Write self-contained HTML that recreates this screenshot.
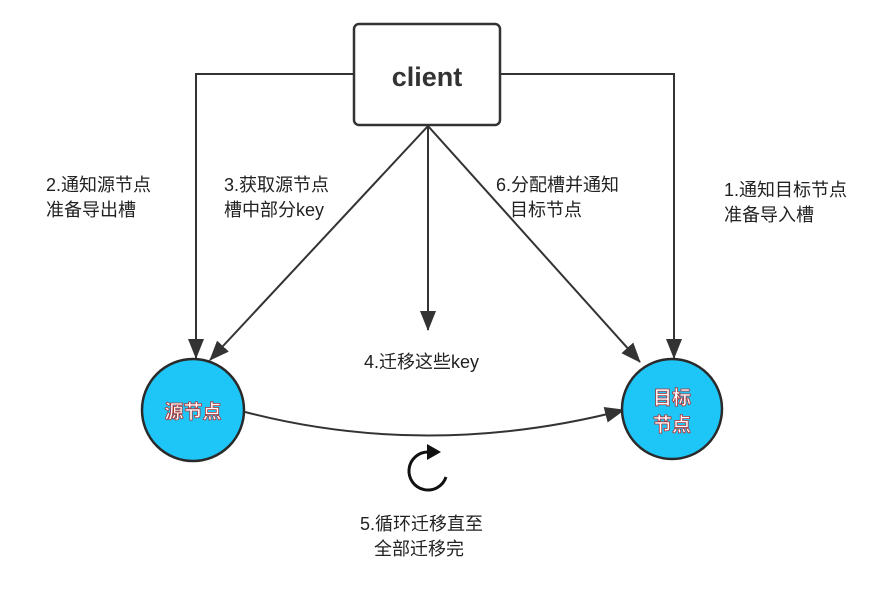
<!DOCTYPE html>
<html><head><meta charset="utf-8"><style>
body{margin:0;background:#fff;}
svg{display:block;}
text{font-family:"Liberation Sans","Noto Sans CJK SC",sans-serif;}
</style></head><body>
<svg width="893" height="598" viewBox="0 0 893 598">
<defs>
<marker id="b" markerWidth="20" markerHeight="16" refX="19" refY="8" orient="auto" markerUnits="userSpaceOnUse" viewBox="0 0 20 16">
<path d="M0,0 L20,8 L0,16 Z" fill="#333"/>
</marker>
</defs>
<g stroke="#333" stroke-width="2" fill="none">
<polyline points="354,74 196,74 196,358" marker-end="url(#b)"/>
<polyline points="500,74 674,74 674,358" marker-end="url(#b)"/>
<line x1="428" y1="126" x2="210" y2="360" marker-end="url(#b)"/>
<line x1="428" y1="126" x2="428" y2="330" marker-end="url(#b)"/>
<line x1="428" y1="126" x2="640" y2="362" marker-end="url(#b)"/>
<path d="M245,412 Q430,460 624,410" marker-end="url(#b)"/>
</g>
<rect x="354" y="24" width="146" height="101" rx="5" fill="#fff" stroke="#333" stroke-width="2.5"/>
<text x="427" y="86" font-size="27" font-weight="bold" fill="#333" text-anchor="middle">client</text>
<circle cx="193" cy="410" r="51" fill="#1ec5f7" stroke="#2a2a2a" stroke-width="2.5"/>
<circle cx="672" cy="409" r="50" fill="#1ec5f7" stroke="#2a2a2a" stroke-width="2.5"/>
<g font-size="19" font-weight="bold" fill="#fff" stroke="#b03030" stroke-width="0.8" text-anchor="middle">
<text x="193" y="418">源节点</text>
<text x="672" y="404">目标</text>
<text x="672" y="431">节点</text>
</g>
<g font-size="18" fill="#222">
<text x="46" y="191">2.通知源节点</text>
<text x="46" y="216">准备导出槽</text>
<text x="224" y="191">3.获取源节点</text>
<text x="224" y="216">槽中部分key</text>
<text x="496" y="191">6.分配槽并通知</text>
<text x="510" y="216">目标节点</text>
<text x="724" y="196">1.通知目标节点</text>
<text x="724" y="221">准备导入槽</text>
<text x="364" y="368">4.迁移这些key</text>
<text x="360" y="530">5.循环迁移直至</text>
<text x="374" y="555">全部迁移完</text>
</g>
<path d="M446,477 A19,19 0 1 1 428,452" fill="none" stroke="#111" stroke-width="3"/>
<path d="M427,444 L441,452 L427,460 Z" fill="#111"/>
</svg>
</body></html>
